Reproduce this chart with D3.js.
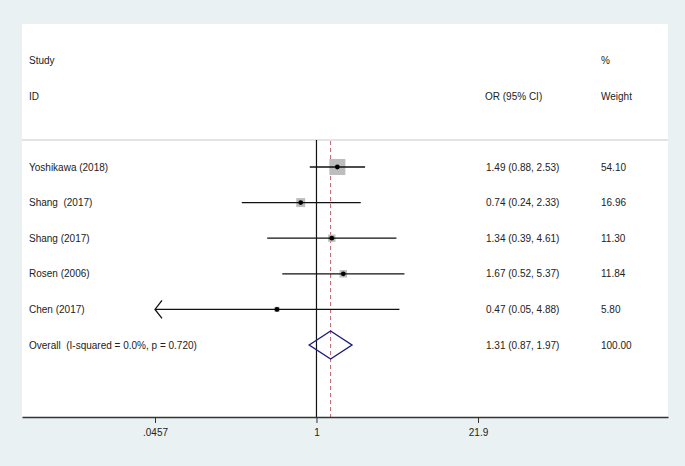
<!DOCTYPE html>
<html><head><meta charset="utf-8">
<script src="https://cdn.jsdelivr.net/npm/d3@7/dist/d3.min.js"></script>
<style>body{margin:0;background:#eaf1f3;}svg{display:block;font-family:"Liberation Sans",Arial,sans-serif;}text{white-space:pre;}</style>
</head><body><svg id="c" width="685" height="466"></svg>
<script>
const studies = ["Yoshikawa (2018)", "Shang  (2017)", "Shang (2017)", "Rosen (2006)", "Chen (2017)"];
const orVals = [1.49, 0.74, 1.34, 1.67, 0.47];
const lowerCI = [0.88, 0.24, 0.39, 0.52, 0.05];
const upperCI = [2.53, 2.33, 4.61, 5.37, 4.88];
const weights = [54.10, 16.96, 11.30, 11.84, 5.80];
const arrowLeft = [false, false, false, false, true];
const overall = {label: "Overall  (I-squared = 0.0%, p = 0.720)", or: 1.31, lo: 0.87, hi: 1.97, w: 100.00};
const tickVals = [0.0457, 1, 21.9];
const tickLabels = [".0457", "1", "21.9"];

const svg = d3.select("#c");
const W = 685, H = 466;
svg.append("rect").attr("width", W).attr("height", H).attr("fill", "#eaf1f3");
const panel = {l: 22, r: 668, t: 24, b: 417};
svg.append("rect").attr("x", panel.l).attr("y", panel.t).attr("width", panel.r - panel.l).attr("height", panel.b - panel.t).attr("fill", "#fff");

// scale: ticks positioned at 155, 316, 478
const x = d3.scaleLog().domain([tickVals[0], tickVals[2]]).range([155, 478]);
const xMin = x.invert(panel.l), xMax = x.invert(panel.r);
x.domain([xMin, xMax]).range([panel.l, panel.r]);

const headTop = 140;
const rowY = d3.scaleLinear().domain([0, 5]).range([167, 345]);

const txt = (s, xx, yy, anchor) => svg.append("text").attr("x", xx).attr("y", yy).attr("dy", "0.35em")
  .attr("xml:space", "preserve")
  .attr("font-size", 10).attr("fill", "#222").attr("text-anchor", anchor || "start").text(s);
txt("Study", 29, 60); txt("ID", 29, 96);
txt("OR (95% CI)", 485, 96); txt("%", 601, 60); txt("Weight", 601, 96);
svg.append("line").attr("x1", panel.l).attr("x2", panel.r).attr("y1", headTop).attr("y2", headTop)
  .attr("stroke", "#c8c8c8").attr("stroke-width", 1);

svg.append("line").attr("x1", x(1)).attr("x2", x(1)).attr("y1", headTop).attr("y2", panel.b)
  .attr("stroke", "#111").attr("stroke-width", 1.2);
svg.append("line").attr("x1", x(overall.or)).attr("x2", x(overall.or)).attr("y1", headTop + 1).attr("y2", panel.b)
  .attr("stroke", "#c0606a").attr("stroke-width", 1).attr("stroke-dasharray", "4,3");

const maxW = d3.max(weights);
const boxSide = d3.scaleSqrt().domain([0, maxW]).range([0, 16]);
const fmt = d3.format(".2f");

studies.forEach((s, i) => {
  const y = rowY(i);
  const l = arrowLeft[i] ? tickVals[0] : lowerCI[i];
  const r = Math.min(upperCI[i], tickVals[2]);
  const side = boxSide(weights[i]);
  svg.append("rect").attr("x", x(orVals[i]) - side / 2).attr("y", y - side / 2)
    .attr("width", side).attr("height", side).attr("fill", "#bdbdbd");
  svg.append("line").attr("x1", x(l)).attr("x2", x(r)).attr("y1", y).attr("y2", y)
    .attr("stroke", "#111").attr("stroke-width", 1.3);
  if (arrowLeft[i]) {
    const ax = x(tickVals[0]);
    svg.append("path").attr("d", `M${ax + 7},${y - 9}L${ax},${y}L${ax + 7},${y + 9}`)
      .attr("fill", "none").attr("stroke", "#111").attr("stroke-width", 1.3);
  }
  svg.append("circle").attr("cx", x(orVals[i])).attr("cy", y).attr("r", 2.4).attr("fill", "#000");
  txt(s, 29, y);
  txt(`${fmt(orVals[i])} (${fmt(lowerCI[i])}, ${fmt(upperCI[i])})`, 486, y);
  txt(fmt(weights[i]), 601, y);
});

const oy = rowY(5);
svg.append("path").attr("d", `M${x(overall.lo)},${oy}L${x(overall.or)},${oy - 14}L${x(overall.hi)},${oy}L${x(overall.or)},${oy + 14}Z`)
  .attr("fill", "none").attr("stroke", "#1c1c80").attr("stroke-width", 1.4);
txt(overall.label, 29, oy);
txt(`${fmt(overall.or)} (${fmt(overall.lo)}, ${fmt(overall.hi)})`, 486, oy);
txt(fmt(overall.w), 601, oy);

const axis = d3.axisBottom(x).tickValues(tickVals).tickFormat((d, i) => tickLabels[i]).tickSize(6).tickSizeOuter(0).tickPadding(6);
const g = svg.append("g").attr("transform", `translate(0,${panel.b})`).call(axis);
g.select(".domain").attr("stroke", "#333").attr("stroke-width", 1.5);
g.selectAll(".tick line").attr("stroke", "#333");
g.selectAll(".tick text").attr("font-size", 10).attr("fill", "#222").attr("font-family", "Liberation Sans, Arial, sans-serif");
</script></body></html>
